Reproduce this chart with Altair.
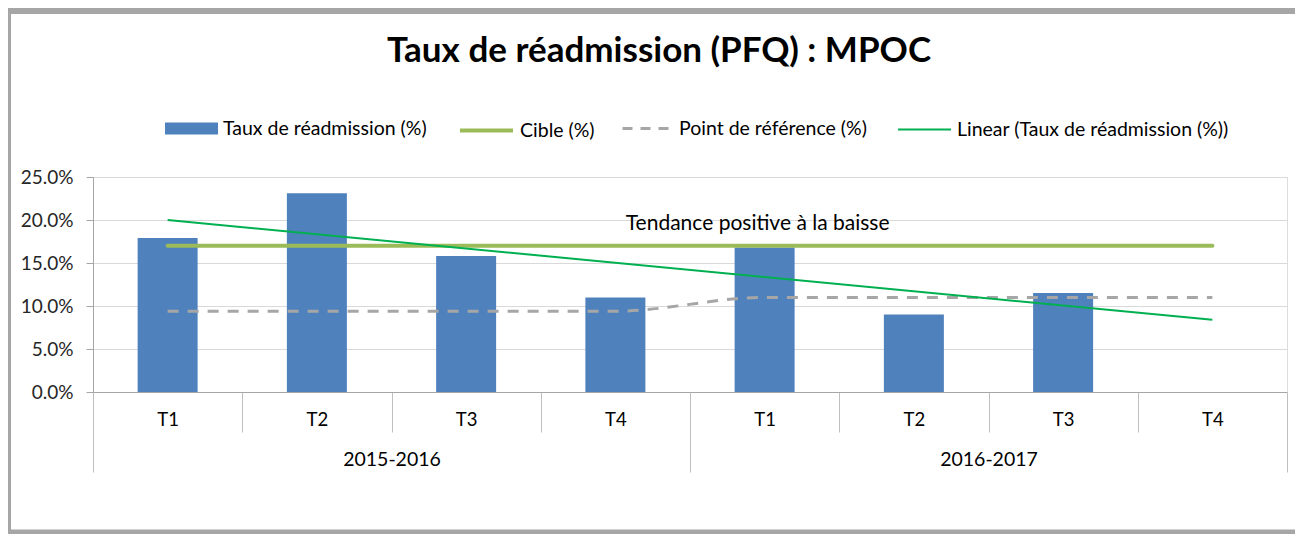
import altair as alt
import pandas as pd

# ---- data ----
years = ["2015-2016"] * 4 + ["2016-2017"] * 4
quarters = ["T1", "T2", "T3", "T4", "T1", "T2", "T3", "T4"]
taux = [17.9, 23.1, 15.8, 11.0, 16.8, 9.0, 11.5, None]
cible = [17.0, 17.0, 17.0, 17.0, 17.0, 17.0, 17.0, 17.0]
reference = [9.4, 9.4, 9.4, 9.4, 11.0, 11.0, 11.0, 11.0]
trend_periods = ["2015-2016 T1", "2016-2017 T4"]
trend_values = [20.0, 8.4]
y_ticks = [0, 5, 10, 15, 20, 25]
annotation_text = ["Tendance positive à la baisse"]
annotation_period = ["2016-2017 T1"]
annotation_value = [19.5]

S_BAR = "Taux de réadmission (%)"
S_CIBLE = "Cible (%)"
S_REF = "Point de référence (%)"
S_LIN = "Linear (Taux de réadmission (%))"
TITLE = "Taux de réadmission (PFQ) : MPOC"

FONT = "Lato"
periods = [f"{y} {q}" for y, q in zip(years, quarters)]
df = pd.DataFrame({"period": periods, "taux": taux, "cible": cible, "reference": reference})
trend_df = pd.DataFrame({"period": trend_periods, "v": trend_values})
ann_df = pd.DataFrame({"period": annotation_period, "v": annotation_value, "t": annotation_text})

W, H = 1194, 215
PAD = {"left": 85, "top": 169, "right": 8, "bottom": 142}

xscale = alt.Scale(domain=periods, paddingInner=0, paddingOuter=0)
yscale = alt.Scale(domain=[0, 25], nice=False)


def X(axis):
    return alt.X("period:N", scale=xscale, axis=axis, title=None)


def legend(lx, **kw):
    base = dict(orient="none", legendX=lx, legendY=-75, title=None, direction="horizontal",
                labelFont=FONT, labelFontSize=19.5, labelColor="black", labelOffset=5, padding=0,
                labelLimit=500)
    base.update(kw)
    return alt.Legend(**base)


q_axis = alt.Axis(orient="bottom", labelExpr="isValid(datum.value) ? split(datum.value, ' ')[1] : ''",
                  labelAngle=0, tickBand="extent", tickSize=40, tickColor="#BFBFBF",
                  domainColor="#A6A6A6", labelFont=FONT, labelFontSize=18.5, labelColor="black",
                  labelBaseline="middle", labelPadding=-13, grid=False, title=None)
year_axis = alt.Axis(orient="bottom",
                     labelExpr="isValid(datum.value) && indexof(datum.value, 'T2') >= 0 ? split(datum.value, ' ')[0] : ''",
                     labelAngle=0, labelOffset=W / 16, tickBand="extent", tickSize=80, tickColor="#BFBFBF",
                     tickOpacity={"condition": {"test": "datum.index < 0 || (isValid(datum.value) && indexof(datum.value, 'T4') >= 0)", "value": 1}, "value": 0},
                     domain=False, labelFont=FONT, labelFontSize=19.5, labelColor="black",
                     labelBaseline="middle", labelPadding=-13, grid=False, title=None)


def Y(field):
    return alt.Y(field, scale=yscale, title=None,
                 axis=alt.Axis(values=y_ticks, labelExpr="format(datum.value, '.1f') + '%'", tickSize=7,
                               tickColor="#A6A6A6", domainColor="#A6A6A6", gridColor="#D9D9D9",
                               labelFont=FONT, labelFontSize=19, labelColor="#262626", labelPadding=13,
                               title=None))


bars = alt.Chart(df).transform_filter("isValid(datum.taux)").transform_calculate(
    s=f"'{S_BAR}'").mark_bar(width=60).encode(
    x=X(q_axis),
    y=Y("taux:Q"),
    color=alt.Color("s:N", scale=alt.Scale(domain=[S_BAR], range=["#4F81BD"]),
                    legend=legend(72, symbolType="M-1,-0.23H1V0.23H-1Z", symbolSize=2809,
                                  symbolStrokeWidth=0)),
)

cible_l = alt.Chart(df).transform_calculate(s=f"'{S_CIBLE}'").mark_line(
    strokeWidth=4, strokeCap="round").encode(
    x=X(year_axis),
    y=Y("cible:Q"),
    color=alt.Color("s:N", scale=alt.Scale(domain=[S_CIBLE], range=["#9BBB59"]),
                    legend=legend(365, symbolType="stroke", symbolSize=2809, symbolStrokeWidth=4)),
)

ref_l = alt.Chart(df).transform_calculate(s=f"'{S_REF}'").mark_line(
    strokeWidth=3, strokeDash=[11, 9], interpolate="monotone").encode(
    x=X(None),
    y=Y("reference:Q"),
    color=alt.Color("s:N", scale=alt.Scale(domain=[S_REF], range=["#A6A6A6"]),
                    legend=legend(528, symbolType="stroke", symbolSize=2500, symbolStrokeWidth=3,
                                  symbolDash=[10, 8])),
)

trend_l = alt.Chart(trend_df).transform_calculate(s=f"'{S_LIN}'").mark_line(strokeWidth=2).encode(
    x=X(None),
    y=Y("v:Q"),
    color=alt.Color("s:N", scale=alt.Scale(domain=[S_LIN], range=["#00B050"]),
                    legend=legend(804, symbolType="stroke", symbolSize=2809, symbolStrokeWidth=2)),
)

ann = alt.Chart(ann_df).mark_text(font=FONT, fontSize=21, color="black", dx=-7).encode(
    x=X(None),
    y=Y("v:Q"),
    text="t:N",
)

frame_df = pd.DataFrame({"k": [0]})
frame_top = alt.Chart(frame_df).mark_rule(color="#A6A6A6", strokeWidth=6).encode(
    x=alt.value(-85), x2=alt.value(W + 8), y=alt.value(-166))
frame_left = alt.Chart(frame_df).mark_rule(color="#A6A6A6", strokeWidth=3).encode(
    x=alt.value(-83.5), y=alt.value(-163), y2=alt.value(H + 142))
frame_bottom = alt.Chart(frame_df).mark_rule(color="#A6A6A6", strokeWidth=5).encode(
    x=alt.value(-85), x2=alt.value(W + 8), y=alt.value(H + 140))

chart = alt.layer(bars, cible_l, ref_l, trend_l, ann, frame_top, frame_left, frame_bottom).resolve_scale(
    color="independent").resolve_axis(x="independent").properties(
    width=W, height=H, padding=PAD, autosize=alt.AutoSizeParams(type="none"),
    title=alt.TitleParams(TITLE, font=FONT, fontSize=35, fontWeight="bold", color="black",
                          anchor="middle", frame="group", offset=0, dy=89, dx=-31, baseline="alphabetic"),
).configure_view(strokeWidth=0).configure(background="white")

chart.save("out.html", embed_options={"renderer": "svg", "actions": False})
